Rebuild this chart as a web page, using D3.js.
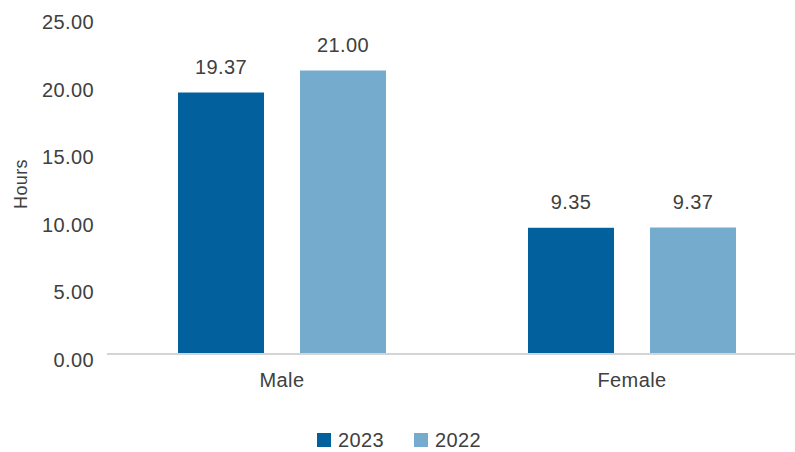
<!DOCTYPE html>
<html>
<head>
<meta charset="utf-8">
<script src="https://cdn.jsdelivr.net/npm/d3@7"></script>
<style>
  html, body { margin: 0; padding: 0; background: #fff; }
  svg text { font-family: "Liberation Sans", Arial, sans-serif; fill: #404040; letter-spacing: 0.4px; }
</style>
</head>
<body>
<svg id="chart" width="795" height="452"></svg>
<script>
// Average training hours by gender
const categories = ["Male", "Female"];
const years = ["2023", "2022"];
const values2023 = [19.37, 9.35];
const values2022 = [21.00, 9.37];
const yTicks = [0, 5, 10, 15, 20, 25];
const colors = ["#02609c", "#75abcd"];

const seriesByYear = { "2023": values2023, "2022": values2022 };

const svg = d3.select("#chart");
const W = 795, H = 452;
const plot = { left: 107, right: 807, top: 16.5, bottom: 354 };
const fs = 20;

const y = d3.scaleLinear().domain([0, 25]).range([plot.bottom, plot.top]);
const x0 = d3.scaleBand().domain(categories).range([plot.left, plot.right]).padding(0);
const groupInset = 71;
const x1 = d3.scaleBand().domain(years)
  .range([groupInset, x0.bandwidth() - groupInset])
  .paddingInner(0.295).paddingOuter(0);
const color = d3.scaleOrdinal().domain(years).range(colors);

// Y axis tick labels
const yAxis = d3.axisLeft(y).tickValues(yTicks).tickFormat(d3.format(".2f")).tickSize(0).tickPadding(0);
const yg = svg.append("g").attr("transform", `translate(94,0)`).call(yAxis);
yg.select(".domain").remove();
yg.selectAll("text")
  .attr("font-size", fs).attr("dy", "0.95em").attr("y", -7)
  .style("font-family", "Liberation Sans, Arial, sans-serif").style("fill", "#404040");

// Y axis title
svg.append("text")
  .attr("transform", `translate(27,184) rotate(-90)`)
  .attr("text-anchor", "middle")
  .attr("font-size", 18)
  .text("Hours");

// Bars
const groups = svg.append("g").selectAll("g")
  .data(categories).join("g")
  .attr("transform", d => `translate(${x0(d)},0)`);

const barData = (c, i) => years.map(yr => ({ year: yr, value: seriesByYear[yr][i] }));

groups.selectAll("rect")
  .data((c, i) => barData(c, i)).join("rect")
  .attr("x", d => x1(d.year))
  .attr("width", x1.bandwidth())
  .attr("y", d => y(d.value))
  .attr("height", d => y(0) - y(d.value))
  .attr("fill", d => color(d.year));

// Value labels
groups.selectAll("text.val")
  .data((c, i) => barData(c, i)).join("text")
  .attr("class", "val")
  .attr("x", d => x1(d.year) + x1.bandwidth() / 2)
  .attr("y", d => y(d.value) - 19)
  .attr("text-anchor", "middle")
  .attr("font-size", fs)
  .text(d => d3.format(".2f")(d.value));

// Baseline
svg.append("line")
  .attr("x1", plot.left).attr("x2", W)
  .attr("y1", y(0)).attr("y2", y(0))
  .attr("stroke", "#d4d4d4").attr("stroke-width", 2);

// Category labels
svg.append("g").selectAll("text")
  .data(categories).join("text")
  .attr("x", d => x0(d) + x0.bandwidth() / 2)
  .attr("y", 387)
  .attr("text-anchor", "middle")
  .attr("font-size", fs)
  .text(d => d);

// Legend
const lg = svg.append("g").selectAll("g")
  .data(years).join("g")
  .attr("transform", (d, i) => `translate(${317 + i * 97},433)`);
lg.append("rect").attr("width", 14).attr("height", 14).attr("fill", d => color(d));
lg.append("text").attr("x", 21).attr("y", 14).attr("font-size", fs).text(d => d);
</script>
</body>
</html>
